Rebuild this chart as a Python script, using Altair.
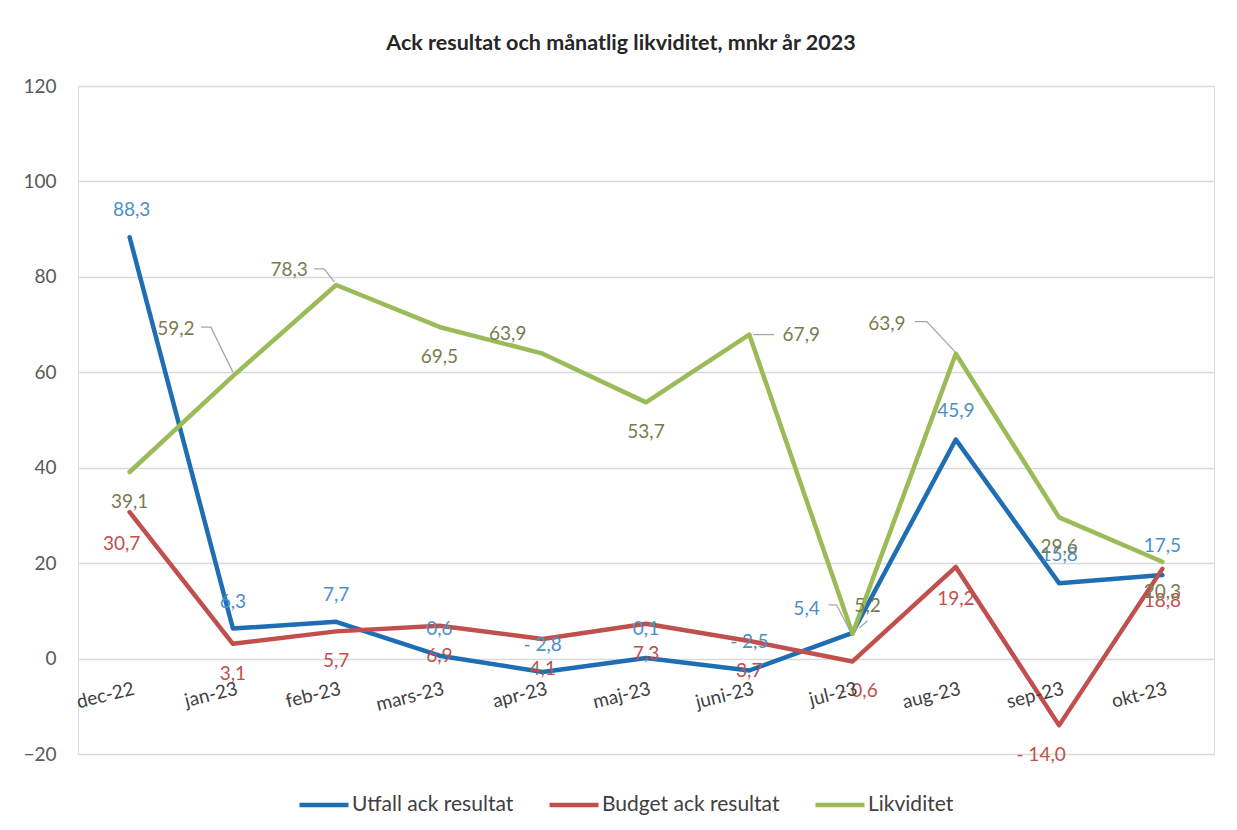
import altair as alt
import pandas as pd

categories = ["dec-22", "jan-23", "feb-23", "mars-23", "apr-23", "maj-23",
              "juni-23", "jul-23", "aug-23", "sep-23", "okt-23"]
utfall = [88.3, 6.3, 7.7, 0.6, -2.8, 0.1, -2.5, 5.4, 45.9, 15.8, 17.5]
budget = [30.7, 3.1, 5.7, 6.9, 4.1, 7.3, 3.7, -0.6, 19.2, -14.0, 18.8]
likviditet = [39.1, 59.2, 78.3, 69.5, 63.9, 53.7, 67.9, 5.2, 63.9, 29.6, 20.3]
series_names = ["Utfall ack resultat", "Budget ack resultat", "Likviditet"]
y_ticks = [-20, 0, 20, 40, 60, 80, 100, 120]

Y_MIN, Y_MAX = -20, 120
PLOT_W, PLOT_H = 1136, 668

# label placement (pixel offsets from each point), layout only
lab_dx = {
    "Utfall ack resultat": [2, 0, 0, 0, 0, 0, 0, -46, 0, 0, 0],
    "Budget ack resultat": [-8, 0, 0, 0, 0, 0, 0, 6, 0, -18, 0],
    "Likviditet": [0, -57, -47, 0, -35, 0, 52, 15, -69, 0, 0],
}
lab_dy = {
    "Utfall ack resultat": [-27, -27, -27, -27, -27, -29, -29, -24, -29, -28, -29],
    "Budget ack resultat": [32, 30, 30, 30, 30, 30, 30, 30, 32, 30, 32],
    "Likviditet": [30, -47, -15, 30, -20, 30, 0, -28, -30, 30, 30],
}
# leader lines: (series, category index, [(dx, dy), ...]) pixel offsets from the point
leaders = [
    ("Likviditet", 1, [(-32, -49), (-22, -49), (0, -4)]),
    ("Likviditet", 2, [(-22, -16), (-12, -16), (-2, -3)]),
    ("Likviditet", 6, [(4, 0), (25, 0)]),
    ("Likviditet", 7, [(15, -13), (7, -6)]),
    ("Likviditet", 8, [(-41, -32), (-29, -32), (-1, -2)]),
    ("Utfall ack resultat", 7, [(-24, -28), (-16, -28), (-3, -3)]),
]

line_colors = ["#1F6EB4", "#C0504D", "#9BBB59"]
label_colors = ["#4A90C8", "#C0504D", "#7A7B50"]
FONT = "Lato"
PX = (Y_MAX - Y_MIN) / PLOT_H

series_vals = dict(zip(series_names, [utfall, budget, likviditet]))


def fmt(v):
    s = f"{abs(v):.1f}".replace(".", ",")
    return ("- " + s) if v < 0 else s


rows = []
for name in series_names:
    vals = series_vals[name]
    for i, (c, v) in enumerate(zip(categories, vals)):
        rows.append({"cat": c, "idx": i, "series": name, "value": v, "label": fmt(v),
                     "dx": lab_dx[name][i], "dy": lab_dy[name][i]})
df = pd.DataFrame(rows)

lrows = []
for k, (name, i, pts) in enumerate(leaders):
    for j, (dx, dy) in enumerate(pts):
        lrows.append({"lid": k, "ord": j, "cat": categories[i],
                      "value": series_vals[name][i], "dx": dx, "dy": dy})
ldf = pd.DataFrame(lrows)

cat_df = pd.DataFrame({"cat": categories, "zero": [0] * len(categories)})

xenc = alt.X("cat:N", sort=categories,
             scale=alt.Scale(type="point", padding=0.5), axis=None)
yscale = alt.Scale(domain=[Y_MIN, Y_MAX], nice=False, zero=False)

lines = alt.Chart(df).mark_line(strokeWidth=4.5, strokeCap="round", strokeJoin="round").encode(
    x=xenc,
    y=alt.Y("value:Q", scale=yscale, title=None,
            axis=alt.Axis(values=y_ticks, grid=True, gridColor="#D9D9D9", gridWidth=1.3,
                          domain=False, ticks=False, labelPadding=22, labelFontSize=19,
                          labelColor="#595959", labelFont=FONT)),
    color=alt.Color("series:N", sort=series_names,
                    scale=alt.Scale(domain=series_names, range=line_colors),
                    legend=alt.Legend(title=None, orient="none", legendX=219, legendY=692,
                                      direction="horizontal", symbolType="stroke",
                                      symbolSize=2400, symbolStrokeWidth=4.5,
                                      labelFontSize=21, labelColor="#404040", labelFont=FONT,
                                      labelLimit=400, columnPadding=26, labelOffset=1)),
    order=alt.Order("idx:Q"),
)

leader_lines = alt.Chart(ldf).mark_line(strokeWidth=1.3, color="#A6A6A6").transform_calculate(
    ly=f"datum.value - datum.dy * {PX}"
).encode(
    x=xenc,
    y=alt.Y("ly:Q", scale=yscale),
    xOffset=alt.XOffset("dx:Q", scale=None),
    detail="lid:N",
    order=alt.Order("ord:Q"),
)

labels = alt.Chart(df).mark_text(fontSize=19, font=FONT, baseline="middle", align="center").transform_calculate(
    ly=f"datum.value - datum.dy * {PX}"
).encode(
    x=xenc,
    y=alt.Y("ly:Q", scale=yscale),
    xOffset=alt.XOffset("dx:Q", scale=None),
    text="label:N",
    color=alt.Color("series:N", scale=alt.Scale(domain=series_names, range=label_colors),
                    legend=None),
)

xlabels = alt.Chart(cat_df).mark_text(fontSize=19, font=FONT, angle=346, align="right",
                                       baseline="top", color="#404040", dx=-3, dy=21).encode(
    x=xenc,
    y=alt.Y("zero:Q", scale=yscale),
    text="cat:N",
)

chart = alt.layer(lines, leader_lines, labels, xlabels).resolve_scale(color="independent").properties(
    width=PLOT_W, height=PLOT_H,
    title=alt.TitleParams("Ack resultat och månatlig likviditet, mnkr år 2023",
                          font=FONT, fontSize=21.5, fontWeight="bold", color="#262626",
                          anchor="middle", offset=23, dx=-25),
    autosize=alt.AutoSizeParams(type="none"),
    padding={"left": 70, "top": 78, "right": 15, "bottom": 68},
).configure_view(stroke=None).configure(background="white")

chart.save("out.html", embed_options={"renderer": "svg", "actions": False})
